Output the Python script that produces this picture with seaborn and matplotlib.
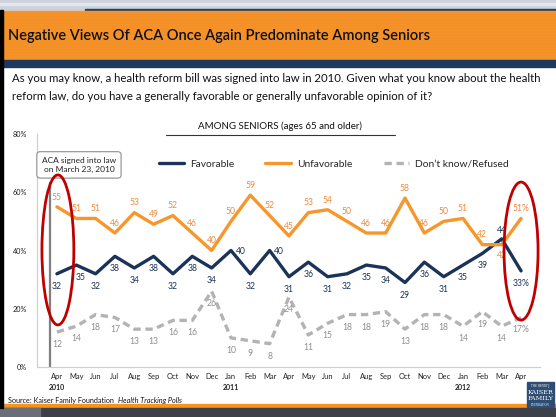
import numpy as np
import pandas as pd
import matplotlib
matplotlib.use("Agg")
import matplotlib.pyplot as plt
from matplotlib.patches import Rectangle, Ellipse
from matplotlib.lines import Line2D
import seaborn as sns

# ---------------- Data (Kaiser Health Tracking Polls, seniors 65+) ----------------
months = ["Apr", "May", "Jun", "Jul", "Aug", "Sep", "Oct", "Nov", "Dec",
          "Jan", "Feb", "Mar", "Apr", "May", "Jun", "Jul", "Aug", "Sep", "Oct", "Nov", "Dec",
          "Jan", "Feb", "Mar", "Apr"]
years = {0: "2010", 9: "2011", 21: "2012"}

favorable = [32, 35, 32, 38, 34, 38, 32, 38, 34, 40, 32, 40, 31, 36, 31, 32, 35, 34, 29, 36, 31, 35, 39, 44, 33]
unfavorable = [55, 51, 51, 46, 53, 49, 52, 46, 40, 50, 59, 52, 45, 53, 54, 50, 46, 46, 58, 46, 50, 51, 42, 42, 51]
dont_know = [12, 14, 18, 17, 13, 13, 16, 16, 26, 10, 9, 8, 24, 11, 15, 18, 18, 19, 13, 18, 18, 14, 19, 14, 17]

series_names = ["Favorable", "Unfavorable", "Don\u2019t know/Refused"]
colors = {"Favorable": "#1B3358", "Unfavorable": "#F7962B", "Don\u2019t know/Refused": "#B3B3B3"}
label_colors = {"Favorable": "#1B3358", "Unfavorable": "#EE8A3C", "Don\u2019t know/Refused": "#8F8F8F"}

df = pd.DataFrame({
    "idx": np.tile(np.arange(len(months)), 3),
    "value": favorable + unfavorable + dont_know,
    "series": np.repeat(series_names, len(months)),
})

# ---------------- Figure ----------------
sns.set_theme(style="white")
plt.rcParams["font.family"] = ["Lato", "DejaVu Sans"]

fig = plt.figure(figsize=(5.56, 4.17), dpi=100)
W, H = 556, 417


def frect(x0, y0, x1, y1, color, **kw):
    # rectangle given in pixel coords measured from the top-left
    fig.patches.append(Rectangle((x0 / W, 1 - y1 / H), (x1 - x0) / W, (y1 - y0) / H,
                                 transform=fig.transFigure, color=color, zorder=0, **kw))


# slide chrome
frect(0, 0, 556, 10, "#CDD2DC")
frect(0, 3, 556, 5, "#E3E6EC")
frect(85, 9, 556, 12, "#2A3F5F")
frect(0, 11, 556, 60, "#F7962B")
for yy in range(13, 60, 3):
    frect(0, yy, 556, yy + 1, "#F39027")
frect(0, 60, 556, 67, "#1D3A5E")
frect(0, 404, 556, 408, "#F7941D")
frect(0, 408, 556, 417, "#3D4049")
frect(0, 408, 40, 417, "#6A6E78")
frect(0, 10, 3, 408, "#000000")

fig.text(8 / W, 1 - 36 / H, "Negative Views Of ACA Once Again Predominate Among Seniors",
         fontsize=10.5, color="#111111", va="center", ha="left", fontweight="semibold")
fig.text(12 / W, 1 - 78 / H,
         "As you may know, a health reform bill was signed into law in 2010. Given what you know about the health",
         fontsize=8.2, color="#111111", va="center")
fig.text(12 / W, 1 - 96 / H,
         "reform law, do you have a generally favorable or generally unfavorable opinion of it?",
         fontsize=8.2, color="#111111", va="center")

# header above chart
fig.text(280 / W, 1 - 126 / H, "AMONG SENIORS (ages 65 and older)", fontsize=7.0,
         color="#111111", ha="center", va="center")
fig.lines.append(Line2D([166 / W, 395 / W], [1 - 135 / H, 1 - 135 / H],
                        transform=fig.transFigure, color="#333333", lw=0.8))

# ---------------- Chart ----------------
ax = fig.add_axes([37 / W, 50 / H, 503 / W, 233 / H])
ax.set_facecolor("none")
sns.lineplot(data=df, x="idx", y="value", hue="series", style="series",
             palette=colors, dashes={"Favorable": "", "Unfavorable": "",
                                     "Don\u2019t know/Refused": (2.2, 1.4)},
             linewidth=2.4, ax=ax, legend=True)

ax.set_xlim(-1.03, 24.98)
ax.set_ylim(0, 80)
ax.set_yticks([0, 20, 40, 60, 80])
ax.set_yticklabels(["0%", "20%", "40%", "60%", "80%"], fontsize=5.2, color="#222222")
ax.set_xticks(range(len(months)))
ax.set_xticklabels(months, fontsize=5.4, color="#222222")
ax.tick_params(axis="x", length=0, pad=4)
ax.tick_params(axis="y", length=0, pad=7)
ax.set_xlabel("")
ax.set_ylabel("")
for s in ["top", "right"]:
    ax.spines[s].set_visible(False)
for s in ["left", "bottom"]:
    ax.spines[s].set_color("#D0D0D0")
    ax.spines[s].set_linewidth(0.9)

for pos, yr in years.items():
    ax.text(pos, -5.9, yr, fontsize=5, fontweight="bold", color="#222222",
            ha="center", va="top")

sns.move_legend(ax, "center", bbox_to_anchor=(0.59, 0.871), ncol=3, frameon=False,
                title=None, fontsize=7.4, handlelength=2.5, columnspacing=3.0,
                handletextpad=0.6)

# data labels (offsets in points)
default_offsets = {"Favorable": (0, -9), "Unfavorable": (0, 7), "Don\u2019t know/Refused": (0, -9)}
special_offsets = {("Favorable", 9): (7, -1), ("Favorable", 11): (7, -1),
                   ("Favorable", 23): (0, 6), ("Unfavorable", 23): (0, -8),
                   ("Favorable", 1): (3, -9)}
for name, vals in zip(series_names, [favorable, unfavorable, dont_know]):
    for i, v in enumerate(vals):
        txt = f"{v}%" if i == len(vals) - 1 else str(v)
        off = special_offsets.get((name, i), default_offsets[name])
        ax.annotate(txt, (i, v), xytext=off, textcoords="offset points",
                    ha="center", va="center", fontsize=6.2, color=label_colors[name])

# ACA signing marker
ax.plot([-0.36, -0.36], [0, 63.3], color="#7F7F7F", lw=1.6, zorder=1)
ax.text(1.14, 69.4, "ACA signed into law\non March 23, 2010", fontsize=6.0,
        ha="center", va="center", color="#222222", linespacing=1.4,
        bbox=dict(boxstyle="round,pad=0.6,rounding_size=0.4", fc="white",
                  ec="#8C8C8C", lw=0.8))

# red emphasis ellipses
ax.add_patch(Ellipse((0.05, 40.2), 1.65, 51.5, fill=False, ec="#C00000", lw=2.0,
                     clip_on=False, zorder=5))
ax.add_patch(Ellipse((24.0, 39.8), 1.76, 47.4, fill=False, ec="#C00000", lw=2.0,
                     clip_on=False, zorder=5))

# source + logo
src = fig.text(8 / W, 1 - 400 / H, "Source: Kaiser Family Foundation ", fontsize=5.2,
               color="#111111", va="center")
fig.canvas.draw()
bb = src.get_window_extent()
fig.text(bb.x1 / W + 2 / W, 1 - 400 / H, "Health Tracking Polls", fontsize=5.2,
         style="italic", color="#111111", va="center")
frect(527, 382, 554, 407, "#2E4D72")
fig.text(540.5 / W, 1 - 386 / H, "THE HENRY J.", fontsize=1.8, color="white",
         ha="center", va="center", family="DejaVu Serif")
fig.text(540.5 / W, 1 - 392 / H, "KAISER", fontsize=4.6, color="white",
         ha="center", va="center", family="DejaVu Serif")
fig.text(540.5 / W, 1 - 399 / H, "FAMILY", fontsize=4.6, color="white",
         ha="center", va="center", family="DejaVu Serif")
fig.text(540.5 / W, 1 - 404.5 / H, "FOUNDATION", fontsize=1.8, color="white",
         ha="center", va="center", family="DejaVu Serif")

plt.savefig("out.png", dpi=100)
plt.close()
